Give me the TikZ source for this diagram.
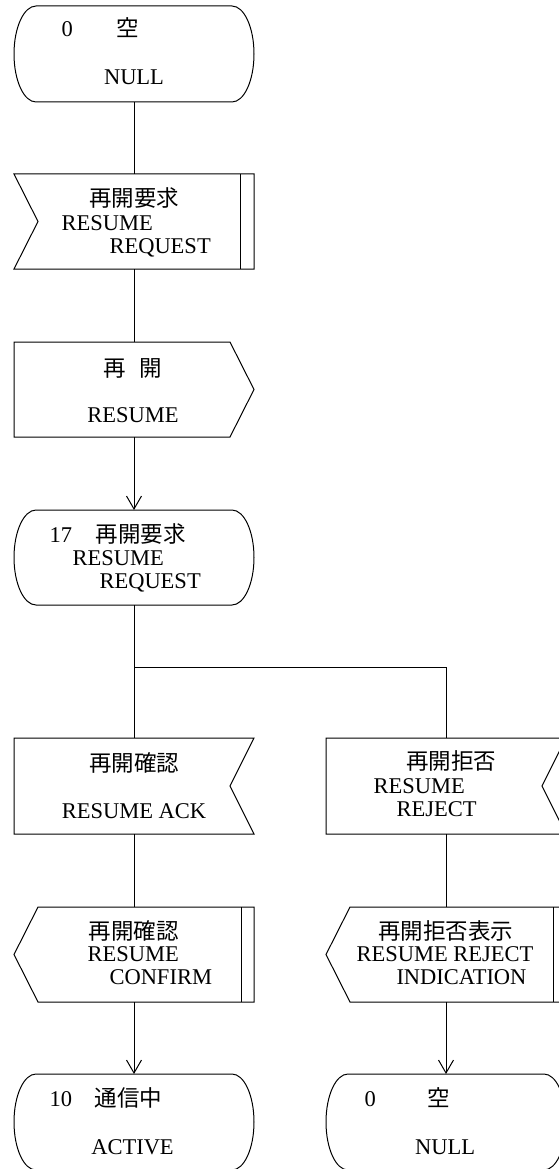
\documentclass[tikz,border=0pt]{standalone}
\usepackage{fontspec}
\setmainfont{Liberation Serif}
\newfontfamily\cjk{Noto Sans CJK JP}
\usetikzlibrary{arrows.meta}
\begin{document}
\begin{tikzpicture}[x=1pt,y=-1pt,line width=1pt,
  every node/.style={font=\fontsize{22.5pt}{23pt}\selectfont},
  frame/.style={rectangle,minimum width=240pt,inner sep=0pt,outer sep=0pt,draw=none},
  lw/.style={inner sep=0pt,anchor=base west},
  lc/.style={inner sep=0pt,anchor=base},
  arr/.style={-{Straight Barb[length=13pt,width=15pt,line width=1pt]}}]
\useasboundingbox (0,0) rectangle (559,1169);
\clip (0,0) rectangle (559,1169);
% ---------- shape nodes ----------
\node[frame,minimum height=96pt] (s0) at (134,54) {};
\node[frame,minimum height=95pt] (r1) at (134,221.5) {};
\node[frame,minimum height=95pt] (r2) at (134,389.5) {};
\node[frame,minimum height=95pt] (s17) at (134,557.5) {};
\node[frame,minimum height=96pt] (ack) at (134,786) {};
\node[frame,minimum height=96pt] (rej) at (446,786) {};
\node[frame,minimum height=95pt] (conf) at (134,954.5) {};
\node[frame,minimum height=95pt] (ind) at (446,954.5) {};
\node[frame,minimum height=96pt] (s10) at (134,1122) {};
\node[frame,minimum height=96pt] (s0b) at (446,1122) {};
% ---------- outlines ----------
% states
\foreach \n/\r in {s0/48,s17/47.5,s10/48,s0b/48}{
  \draw ([xshift=22pt]\n.north west) -- ([xshift=-22pt]\n.north east)
    arc[start angle=90,end angle=-90,x radius=22pt,y radius=\r pt]
    -- ([xshift=22pt]\n.south west)
    arc[start angle=270,end angle=90,x radius=22pt,y radius=\r pt] -- cycle;
}
% input signal with bar (notch left)
\draw (r1.north west) -- (r1.north east) -- (r1.south east) -- (r1.south west)
  -- ([xshift=24pt]r1.west) -- cycle;
\draw ([xshift=-14pt]r1.north east) -- ([xshift=-14pt]r1.south east);
% output signal (point right)
\draw (r2.north west) -- ([xshift=-24pt]r2.north east) -- (r2.east)
  -- ([xshift=-24pt]r2.south east) -- (r2.south west) -- cycle;
% input signals (notch right)
\foreach \n in {ack,rej}{
  \draw (\n.north west) -- (\n.north east) -- ([xshift=-24pt]\n.east)
    -- (\n.south east) -- (\n.south west) -- cycle;
}
% output signals pointing left with bar
\foreach \n in {conf,ind}{
  \draw ([xshift=24pt]\n.north west) -- (\n.north east) -- (\n.south east)
    -- ([xshift=24pt]\n.south west) -- (\n.west) -- cycle;
  \draw ([xshift=-12.5pt]\n.north east) -- ([xshift=-12.5pt]\n.south east);
}
% ---------- connectors ----------
\coordinate (j) at (446,667);
\draw (s0.south) -- (r1.north);
\draw (r1.south) -- (r2.north);
\draw[arr] (r2.south) -- (s17.north);
\draw (s17.south) |- (j) -- (rej.north);
\draw (s17.south) -- (ack.north);
\draw (ack.south) -- (conf.north);
\draw (rej.south) -- (ind.north);
\draw[arr] (conf.south) -- (s10.north);
\draw[arr] (ind.south) -- (s0b.north);
% ---------- texts ----------
\node[lw] (t1) at (61,37) {0};
\node[lw] (t2) at (116,37) {\cjk 空};
\node[lc] (t3) at (134,85) {NULL};
\node[lc] (t4) at (134,207) {\cjk 再開要求};
\node[lw] (t5) at (61,230) {RESUME};
\node[lw] (t6) at (109,253) {REQUEST};
\node[lc] (t7) at (132.5,376) {\cjk 再\hspace{14pt}開};
\node[lc] (t8) at (133,422) {RESUME};
\node[lw] (t9) at (49,542) {17};
\node[lw] (t10) at (95,542) {\cjk 再開要求};
\node[lw] (t11) at (72,565) {RESUME};
\node[lw] (t12) at (99,588) {REQUEST};
\node[lc] (t13) at (134,771) {\cjk 再開確認};
\node[lc] (t14) at (134,818) {RESUME ACK};
\node[lc] (t15) at (451,769) {\cjk 再開拒否};
\node[lw] (t16) at (373,793) {RESUME};
\node[lw] (t17) at (396,816) {REJECT};
\node[lc] (t18) at (133.5,939) {\cjk 再開確認};
\node[lw] (t19) at (87,961) {RESUME};
\node[lw] (t20) at (109,984) {CONFIRM};
\node[lc] (t21) at (445.5,939) {\cjk 再開拒否表示};
\node[lw] (t22) at (356,961) {RESUME REJECT};
\node[lw] (t23) at (396,984) {INDICATION};
\node[lw] (t24) at (49,1106) {10};
\node[lw] (t25) at (94,1106) {\cjk 通信中};
\node[lc] (t26) at (132.5,1154) {ACTIVE};
\node[lw] (t27) at (364,1106) {0};
\node[lw] (t28) at (427,1106) {\cjk 空};
\node[lc] (t29) at (445,1154) {NULL};
\end{tikzpicture}
\end{document}
